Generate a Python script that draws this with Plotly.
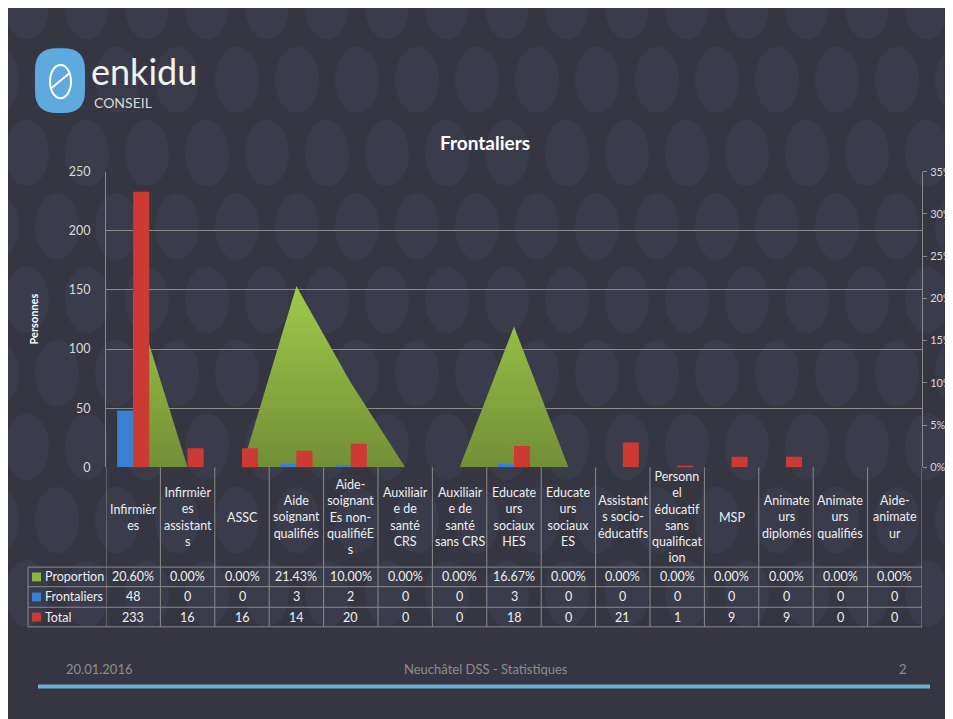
import plotly.graph_objects as go

# the page body keeps its 8px margin, so the figure is drawn 8px in from the corner
OFF = 8
W, H = 953 - OFF, 719 - OFF

# table header labels, wrapped as on the slide
categories = [
    "Infirmièr<br>es",
    "Infirmièr<br>es<br>assistant<br>s",
    "ASSC",
    "Aide<br>soignant<br>qualifiés",
    "Aide-<br>soignant<br>Es non-<br>qualifiéE<br>s",
    "Auxiliair<br>e de<br>santé<br>CRS",
    "Auxiliair<br>e de<br>santé<br>sans CRS",
    "Educate<br>urs<br>sociaux<br>HES",
    "Educate<br>urs<br>sociaux<br>ES",
    "Assistant<br>s socio-<br>éducatifs",
    "Personn<br>el<br>éducatif<br>sans<br>qualificat<br>ion",
    "MSP",
    "Animate<br>urs<br>diplomés",
    "Animate<br>urs<br>qualifiés",
    "Aide-<br>animate<br>ur",
]
proportion = [0.2060, 0.0, 0.0, 0.2143, 0.10, 0.0, 0.0, 0.1667, 0.0, 0.0, 0.0, 0.0, 0.0, 0.0, 0.0]
frontaliers = [48, 0, 0, 3, 2, 0, 0, 3, 0, 0, 0, 0, 0, 0, 0]
total = [233, 16, 16, 14, 20, 0, 0, 18, 0, 21, 1, 9, 9, 0, 0]
series_names = ["Proportion", "Frontaliers", "Total"]
left_ticks = [0, 50, 100, 150, 200, 250]
right_ticks = [0, 0.05, 0.10, 0.15, 0.20, 0.25, 0.30, 0.35]

BG = "#363643"
GRID = "#8a8a8a"
GREEN, BLUE, RED = "#8db83c", "#3b7fd2", "#cc3a34"
FONT = "Lato, 'Open Sans', sans-serif"


def px(x):
    # page pixel -> paper fraction
    return (x - OFF) / W


def py(y):
    return 1 - (y - OFF) / H


def note(text, x, y, size=12, color="#eeeeee", xanchor="center", xref="paper", **kw):
    return dict(text=text, x=x if xref == "x" else px(x), y=py(y), xref=xref, yref="paper",
                xanchor=xanchor, yanchor="middle", showarrow=False,
                font=dict(family=FONT, size=size, color=color), **kw)


x_idx = list(range(len(categories)))

fig = go.Figure()

# area first (main subplot), bars on the overlay so they sit on top
fig.add_trace(go.Scatter(
    x=x_idx, y=proportion, yaxis="y", mode="none", fill="tozeroy",
    fillgradient=dict(type="vertical", colorscale=[[0, "#728f36"], [1, "#a0c94b"]]),
    name=series_names[0], showlegend=False, hoverinfo="skip"))
fig.add_trace(go.Bar(x=x_idx, y=frontaliers, yaxis="y2", marker=dict(color=BLUE, line_width=0),
                     name=series_names[1], showlegend=False))
fig.add_trace(go.Bar(x=x_idx, y=total, yaxis="y2", marker=dict(color=RED, line_width=0),
                     name=series_names[2], showlegend=False))

shapes = []
annotations = []

# faint logo pattern on the background
for r in range(-1, 8):
    cy = 73 + 75 * r
    phase = 57 if r % 2 == 0 else 27
    cx = phase - 60
    while cx < 953 + 30:
        shapes.append(dict(type="circle", xref="paper", yref="paper",
                           x0=px(cx - 22), x1=px(cx + 22), y0=py(cy + 34), y1=py(cy - 34),
                           fillcolor="rgba(80,95,120,0.16)", line_width=0, layer="below"))
        cx += 60


def rounded(x0, y0, x1, y1, r):
    return (f"M {px(x0 + r)},{py(y0)} L {px(x1 - r)},{py(y0)} Q {px(x1)},{py(y0)} {px(x1)},{py(y0 + r)} "
            f"L {px(x1)},{py(y1 - r)} Q {px(x1)},{py(y1)} {px(x1 - r)},{py(y1)} "
            f"L {px(x0 + r)},{py(y1)} Q {px(x0)},{py(y1)} {px(x0)},{py(y1 - r)} "
            f"L {px(x0)},{py(y0 + r)} Q {px(x0)},{py(y0)} {px(x0 + r)},{py(y0)} Z")


# logo
shapes.append(dict(type="path", xref="paper", yref="paper", path=rounded(35, 41, 85, 107, 22),
                   fillcolor="#5ea9dd", line_width=0))
shapes.append(dict(type="circle", xref="paper", yref="paper", x0=px(50), x1=px(71), y0=py(92), y1=py(58),
                   line=dict(color="white", width=2)))
shapes.append(dict(type="line", xref="paper", yref="paper", x0=px(51), x1=px(70), y0=py(82), y1=py(66),
                   line=dict(color="white", width=2)))
annotations.append(note("enkidu", 89, 64, size=36, color="#f2f2f2", xanchor="left"))
annotations.append(note("CONSEIL", 92, 96, size=14, color="#d6d6d6", xanchor="left"))

# title and y title
annotations.append(note("<b>Frontaliers</b>", 485, 137, size=19, color="white"))
annotations.append(note("<b>Personnes</b>", 33, 318, size=11, color="white", textangle=-90))

# data table under the chart
T_TOP, T_HEAD, T_BOT = 469, 571, 632
row_lines = [571, 591, 612, 632]
for i in range(len(categories) + 1):
    shapes.append(dict(type="line", xref="x", yref="paper", x0=i - 0.5, x1=i - 0.5,
                       y0=py(T_BOT), y1=py(T_TOP), line=dict(color=GRID, width=1)))
shapes.append(dict(type="line", xref="paper", yref="paper", x0=px(28), x1=px(28),
                   y0=py(T_BOT), y1=py(T_HEAD), line=dict(color=GRID, width=1)))
for yl in row_lines:
    shapes.append(dict(type="line", xref="paper", yref="paper", x0=px(28), x1=px(922),
                       y0=py(yl), y1=py(yl), line=dict(color=GRID, width=1)))

for i, lab in enumerate(categories):
    annotations.append(note(lab, i, (T_TOP + T_HEAD) / 2, size=12.5, xref="x", align="center"))

rows = [
    (series_names[0], GREEN, [f"{v * 100:.2f}%" for v in proportion]),
    (series_names[1], BLUE, [str(v) for v in frontaliers]),
    (series_names[2], RED, [str(v) for v in total]),
]
for k, (name, col, vals) in enumerate(rows):
    yc = (row_lines[k] + row_lines[k + 1]) / 2
    shapes.append(dict(type="rect", xref="paper", yref="paper", x0=px(32), x1=px(41),
                       y0=py(yc + 4.5), y1=py(yc - 4.5), fillcolor=col, line_width=0))
    annotations.append(note(name, 43, yc, size=12.5, xanchor="left"))
    for i, v in enumerate(vals):
        annotations.append(note(v, i, yc, size=12.5, xref="x"))

# footer
annotations.append(note("20.01.2016", 99, 675, size=13, color="#8e8e8e"))
annotations.append(note("Neuchâtel DSS - Statistiques", 486, 675, size=13, color="#8e8e8e"))
annotations.append(note("2", 903, 675, size=13, color="#8e8e8e"))
shapes.append(dict(type="line", xref="paper", yref="paper", x0=px(38), x1=px(930), y0=py(693), y1=py(693),
                   line=dict(color="#6cb0da", width=4)))

fig.update_layout(
    width=W, height=H,
    margin=dict(l=0, r=0, t=0, b=0),
    paper_bgcolor=BG, plot_bgcolor="rgba(0,0,0,0)",
    font=dict(family=FONT, color="#d9d9d9", size=12),
    barmode="group", bargap=0.41, bargroupgap=0,
    showlegend=False,
    xaxis=dict(domain=[px(106), px(922)], range=[-0.5, len(categories) - 0.5],
               showticklabels=False, showgrid=False, zeroline=False, showline=False, fixedrange=True),
    yaxis=dict(domain=[py(469), py(167)], range=[0, 0.35], side="right", anchor="x",
               tickvals=right_ticks, tickformat=".0%", ticks="outside", ticklen=4, tickcolor=GRID,
               showline=True, linecolor=GRID, showgrid=False, zeroline=False,
               ticklabelstandoff=1, tickfont=dict(size=11, color="#d9d9d9")),
    yaxis2=dict(overlaying="y", side="left", anchor="x", range=[0, 250], tickvals=left_ticks,
                showgrid=True, gridcolor=GRID, gridwidth=1, showline=True, linecolor=GRID,
                zeroline=False, ticks="", ticklabelstandoff=12,
                tickfont=dict(size=12.5, color="#d9d9d9")),
    shapes=shapes,
    annotations=annotations,
)

fig.write_html("out.html")
